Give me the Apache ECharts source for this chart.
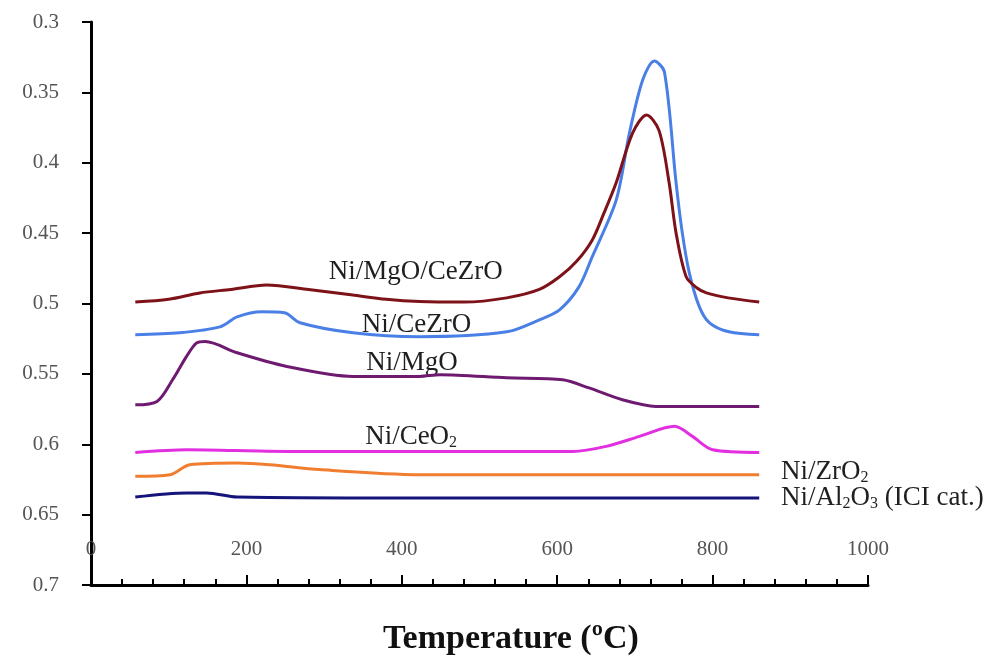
<!DOCTYPE html>
<html>
<head>
<meta charset="utf-8">
<script src="https://cdn.jsdelivr.net/npm/echarts@6/dist/echarts.min.js"></script>
<style>html,body{margin:0;padding:0;background:#fff}#c{width:1003px;height:666px}</style>
</head>
<body>
<div id="c"></div>
<script>
// ---- data (Temperature °C, signal) ----
const niMgOCeZrO = [[57,0.499],[100,0.497],[140,0.4925],[180,0.490],[226,0.4868],[280,0.490],[337,0.494],[380,0.497],[423,0.4986],[480,0.499],[535,0.496],[577,0.490],[603,0.481],[625,0.470],[645,0.455],[660,0.436],[676,0.414],[697,0.379],[715,0.366],[731,0.377],[744,0.414],[753,0.450],[766,0.481],[780,0.489],[792,0.4925],[820,0.496],[860,0.499]];
const niCeZrO = [[57,0.5222],[114,0.5208],[166,0.5166],[188,0.5095],[220,0.5059],[249,0.5066],[269,0.5137],[337,0.5208],[423,0.5236],[535,0.5201],[577,0.5116],[603,0.5045],[628,0.4882],[645,0.4669],[676,0.4264],[693,0.3788],[710,0.3412],[725,0.3277],[738,0.3355],[753,0.4143],[761,0.4498],[770,0.4782],[783,0.5024],[796,0.5137],[821,0.5201],[860,0.5222]];
const niMgO = [[57,0.572],[85,0.5696],[105,0.5542],[123,0.5376],[136,0.528],[147,0.527],[188,0.535],[252,0.5447],[337,0.5518],[423,0.5518],[449,0.5506],[535,0.5528],[607,0.5542],[641,0.560],[684,0.5684],[727,0.5731],[860,0.5731]];
const niCeO2 = [[57,0.6058],[123,0.6039],[252,0.6051],[423,0.6051],[620,0.6051],[663,0.6015],[706,0.5944],[751,0.5873],[774,0.5944],[800,0.6039],[860,0.6058]];
const niZrO2 = [[57,0.6228],[102,0.6216],[127,0.6145],[188,0.6133],[230,0.6145],[294,0.618],[423,0.6216],[860,0.6216]];
const niAl2O3 = [[57,0.6375],[123,0.6346],[149,0.6346],[188,0.6375],[423,0.6382],[860,0.6382]];

const yTickLabels = ['0.3','0.35','0.4','0.45','0.5','0.55','0.6','0.65','0.7'];
const xTickLabels = ['0','200','400','600','800','1000'];
const xTitle = 'Temperature (ºC)';

// label texts (rich) and anchor points in data space
const curveLabels = [
  {text:'{a|Ni/MgO/CeZrO}', at:[418,0.4775], align:'center'},
  {text:'{a|Ni/CeZrO}', at:[419,0.5155], align:'center'},
  {text:'{a|Ni/MgO}', at:[413,0.5425], align:'center'},
  {text:'{a|Ni/CeO}{s|2}', at:[412,0.5945], align:'center'},
  {text:'{a|Ni/ZrO}{s|2}', at:[888,0.6195], align:'left'},
  {text:'{a|Ni/Al}{s|2}{a|O}{s|3}{a| (ICI cat.)}', at:[888,0.638], align:'left'}
];

const colors = ['#7e1219','#4a7fe6','#6e1a70','#e22fe0','#f07d30','#14147a'];
const names = ['Ni/MgO/CeZrO','Ni/CeZrO','Ni/MgO','Ni/CeO2','Ni/ZrO2','Ni/Al2O3 (ICI cat.)'];
const datasets = [niMgOCeZrO, niCeZrO, niMgO, niCeO2, niZrO2, niAl2O3];

const serif = '"Liberation Serif","DejaVu Serif",serif';
const rich = {
  a:{fontFamily:serif, fontSize:27, color:'#1f1f1f'},
  s:{fontFamily:serif, fontSize:16, color:'#1f1f1f', padding:[13,0,0,0]}
};

const series = datasets.map((d,i)=>({
  type:'line', name:names[i], data:d, smooth:0.3, showSymbol:false,
  lineStyle:{color:colors[i], width:3}, itemStyle:{color:colors[i]},
  z: 10-i,
  markPoint:{
    symbol:'circle', symbolSize:0, silent:true,
    data:[{coord:curveLabels[i].at, value:0,
      label:{show:true, position: curveLabels[i].align==='left'?'right':'inside', distance:0,
        formatter:curveLabels[i].text, rich:rich}}]
  }
}));

const chart = echarts.init(document.getElementById('c'));
chart.setOption({
  backgroundColor:'#fff',
  animation:false,
  grid:{left:91, right:135, top:22, bottom:81, containLabel:false},
  xAxis:{
    type:'value', min:0, max:1000, interval:200,
    axisLine:{show:true, lineStyle:{color:'#000', width:3}},
    axisTick:{show:true, inside:true, length:10, lineStyle:{color:'#000', width:2}},
    minorTick:{show:true, splitNumber:5, length:6, lineStyle:{color:'#000', width:2}},
    splitLine:{show:false},
    axisLabel:{inside:true, margin:25, color:'#555', fontFamily:serif, fontSize:21,
      formatter:(v)=>xTickLabels[Math.round(v/200)]}
  },
  yAxis:{
    type:'value', inverse:true, min:0.3, max:0.7, interval:0.05,
    axisLine:{show:true, lineStyle:{color:'#000', width:3}},
    axisTick:{show:true, inside:false, length:9, lineStyle:{color:'#000', width:2}},
    splitLine:{show:false},
    axisLabel:{margin:32, color:'#555', fontFamily:serif, fontSize:21,
      formatter:(v)=>yTickLabels[Math.round((v-0.3)/0.05)]}
  },
  graphic:[{type:'text', left:383, top:622,
    style:{text:xTitle, font:'bold 34px '+serif, fill:'#111'}}],
  series:series
});
</script>
</body>
</html>
